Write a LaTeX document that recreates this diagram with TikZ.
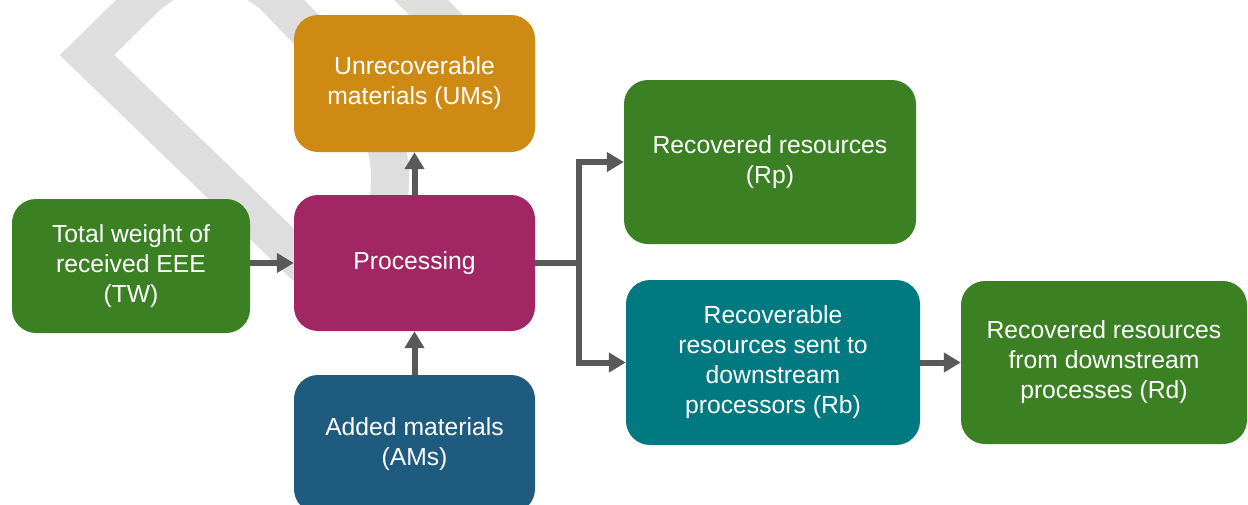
\documentclass[tikz,border=0pt]{standalone}
\usepackage{fontspec}
\setmainfont{Liberation Sans}
\usetikzlibrary{arrows.meta}
\definecolor{cgreen}{HTML}{3C8024}
\definecolor{corange}{HTML}{CF8A14}
\definecolor{cmagenta}{HTML}{A12663}
\definecolor{cblue}{HTML}{1F5A7F}
\definecolor{cteal}{HTML}{007A80}
\definecolor{carrow}{HTML}{595959}
\definecolor{cmark}{HTML}{DEDEDE}
\begin{document}
\begin{tikzpicture}[x=1pt, y=-1pt, >={Triangle[length=17pt,width=19pt]},
  box/.style={rounded corners=24pt, text=white, align=center,
    font=\fontsize{24.7}{30}\selectfont, inner sep=0pt},
  flow/.style={->, draw=carrow, line width=6pt}]
\useasboundingbox (0,0) rectangle (1248,504);

\draw [cmark, line width=38pt, line join=miter] (330,290)--(87,55)--(143,0)
  .. controls (185,-42) and (245,-35) .. (278,0)
  .. controls (330,55) and (392,110) .. (390,180)
  .. controls (389,220) and (380,250) .. (370,280);
\draw [cmark, line width=38pt] (391,-30)--(480,59);

\node [box, fill=cgreen, minimum width=238pt, minimum height=134pt] (tw) at (131,266) {Total weight of\\received EEE\\(TW)};
\node [box, fill=corange, minimum width=241pt, minimum height=137pt] (ums) at (414.5,83.5) {Unrecoverable\\materials (UMs)};
\node [box, fill=cmagenta, minimum width=241pt, minimum height=136pt] (proc) at (414.5,263) {Processing};
\node [box, fill=cblue, minimum width=241pt, minimum height=138pt] (ams) at (414.5,444) {Added materials\\(AMs)};
\node [box, fill=cgreen, minimum width=292pt, minimum height=164pt] (rp) at (770,162) {Recovered resources\\(Rp)};
\node [box, fill=cteal, minimum width=294pt, minimum height=165pt] (rb) at (773,362.5) {Recoverable\\resources sent to\\downstream\\processors (Rb)};
\node [box, fill=cgreen, minimum width=286pt, minimum height=163pt] (rd) at (1104,362.5) {Recovered resources\\from downstream\\processes (Rd)};

\coordinate (split) at (579,263);
\draw [flow] (tw.east |- proc.west)--(proc.west);
\draw [flow] (proc.north)--(ums.south);
\draw [flow] (ams.north)--(proc.south);
\draw [flow] (proc.east)--(split) |- (rp.west);
\draw [flow] (split) |- (rb.west);
\draw [flow] (rb.east)--(rd.west);
\end{tikzpicture}
\end{document}
